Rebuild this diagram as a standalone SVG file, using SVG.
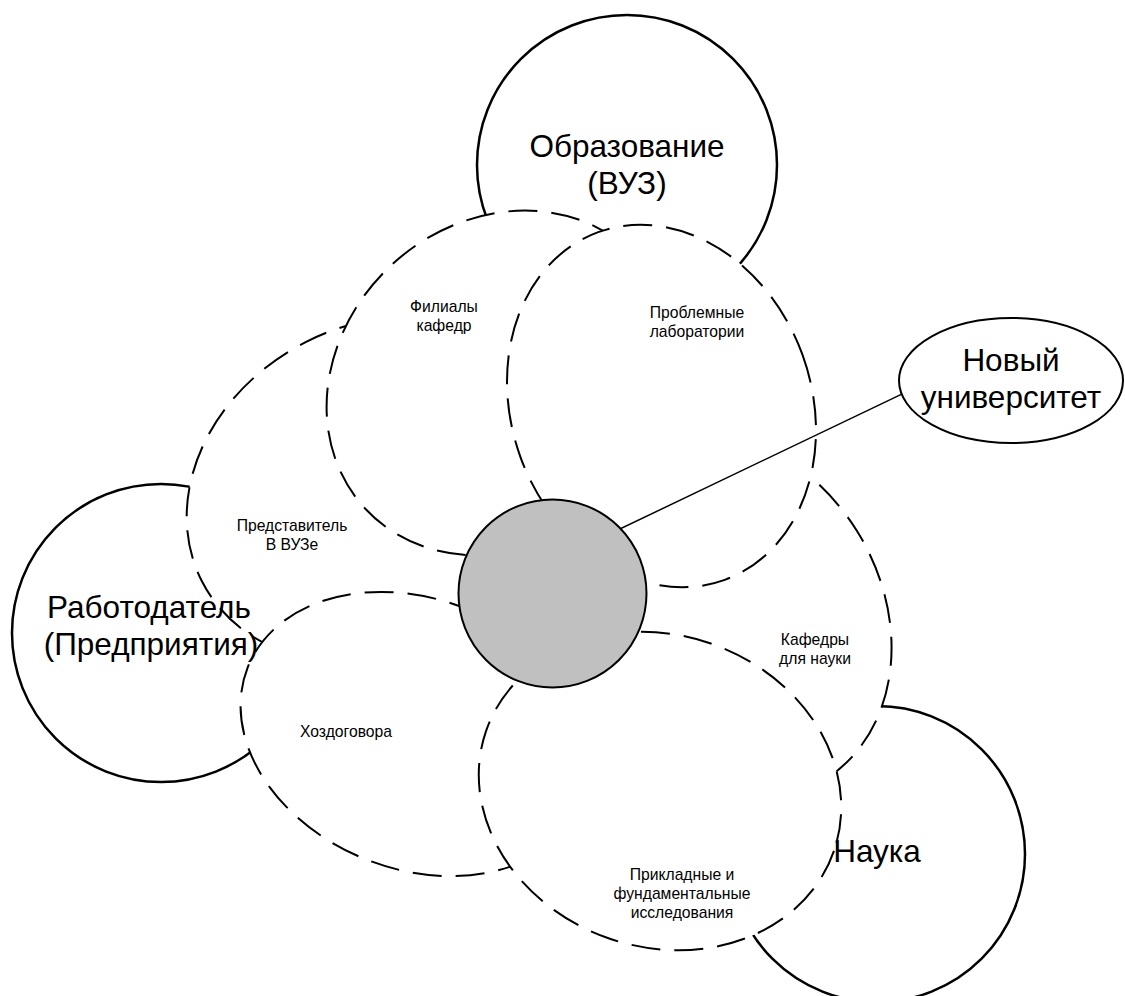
<svg xmlns="http://www.w3.org/2000/svg" width="1125" height="996" viewBox="0 0 1125 996">
  <style>
    .big { fill: none; stroke: #000; stroke-width: 2.5; }
    .petal { fill: none; stroke: #000; stroke-width: 2; stroke-dasharray: 29 14; }
    .hub { fill: #c0c0c0; stroke: #000; stroke-width: 2; }
    .oval { fill: #fff; stroke: #000; stroke-width: 2; }
    .link { fill: none; stroke: #000; stroke-width: 1.5; }
    text { font-family: "Liberation Sans", Arial, sans-serif; fill: #000; text-anchor: middle; }
    .lg { font-size: 31.5px; }
    .sm { font-size: 15.7px; }
  </style>
  <defs>
    <!-- petal outlines (shared by the drawn petals and the masks) -->
    <ellipse id="sh-pred" cx="381" cy="490" rx="201" ry="166" transform="rotate(-27 381 490)"/>
    <ellipse id="sh-fil" cx="501" cy="383" rx="185" ry="161" transform="rotate(-42.6 501 383)"/>
    <ellipse id="sh-prob" cx="661.5" cy="406" rx="150" ry="185" transform="rotate(-20 661.5 406)"/>
    <ellipse id="sh-kaf" cx="722" cy="615" rx="194" ry="159" transform="rotate(58 722 615)"/>
    <ellipse id="sh-hoz" cx="416" cy="734" rx="181" ry="135" transform="rotate(21.6 416 734)"/>
    <ellipse id="sh-prik" cx="660" cy="791" rx="184" ry="156" transform="rotate(19 660 791)"/>

    <!-- each mask hides the part of an outline lying under the shapes stacked above it -->
    <mask id="m-obr" maskUnits="userSpaceOnUse" x="0" y="0" width="1125" height="996">
      <rect width="1125" height="996" fill="#fff"/>
      <use href="#sh-fil" fill="#000"/>
      <use href="#sh-prob" fill="#000"/>
    </mask>
    <mask id="m-rab" maskUnits="userSpaceOnUse" x="0" y="0" width="1125" height="996">
      <rect width="1125" height="996" fill="#fff"/>
      <use href="#sh-pred" fill="#000"/>
      <use href="#sh-hoz" fill="#000"/>
    </mask>
    <mask id="m-nauka" maskUnits="userSpaceOnUse" x="0" y="0" width="1125" height="996">
      <rect width="1125" height="996" fill="#fff"/>
      <use href="#sh-kaf" fill="#000"/>
      <use href="#sh-prik" fill="#000"/>
    </mask>
    <mask id="m-pred" maskUnits="userSpaceOnUse" x="0" y="0" width="1125" height="996">
      <rect width="1125" height="996" fill="#fff"/>
      <use href="#sh-fil" fill="#000"/>
      <use href="#sh-hoz" fill="#000"/>
    </mask>
    <mask id="m-fil" maskUnits="userSpaceOnUse" x="0" y="0" width="1125" height="996">
      <rect width="1125" height="996" fill="#fff"/>
      <use href="#sh-prob" fill="#000"/>
    </mask>
    <mask id="m-kaf" maskUnits="userSpaceOnUse" x="0" y="0" width="1125" height="996">
      <rect width="1125" height="996" fill="#fff"/>
      <use href="#sh-prob" fill="#000"/>
      <use href="#sh-prik" fill="#000"/>
    </mask>
    <mask id="m-hoz" maskUnits="userSpaceOnUse" x="0" y="0" width="1125" height="996">
      <rect width="1125" height="996" fill="#fff"/>
      <use href="#sh-prik" fill="#000"/>
    </mask>
  </defs>

  <rect width="1125" height="996" fill="#fff"/>

  <!-- large spheres -->
  <g id="node-obrazovanie">
    <circle class="big" cx="627" cy="165" r="150" mask="url(#m-obr)"/>
    <text class="lg" x="627" y="157">Образование</text>
    <text class="lg" x="627" y="193.5">(ВУЗ)</text>
  </g>
  <g id="node-rabotodatel">
    <circle class="big" cx="161" cy="633" r="149" mask="url(#m-rab)"/>
    <text class="lg" x="149" y="618">Работодатель</text>
    <text class="lg" x="151" y="655">(Предприятия)</text>
  </g>
  <g id="node-nauka">
    <circle class="big" cx="877" cy="854" r="148" mask="url(#m-nauka)"/>
    <text class="lg" x="877" y="862">Наука</text>
  </g>

  <!-- dashed petals -->
  <g id="node-predstavitel">
    <use class="petal" href="#sh-pred" mask="url(#m-pred)"/>
    <text class="sm" x="292" y="531">Представитель</text>
    <text class="sm" x="292" y="549.5">В ВУЗе</text>
  </g>
  <g id="node-filialy">
    <use class="petal" href="#sh-fil" mask="url(#m-fil)"/>
    <text class="sm" x="444" y="312">Филиалы</text>
    <text class="sm" x="444" y="330.5">кафедр</text>
  </g>
  <g id="node-kafedry">
    <use class="petal" href="#sh-kaf" mask="url(#m-kaf)"/>
    <text class="sm" x="815" y="645">Кафедры</text>
    <text class="sm" x="815" y="663.5">для науки</text>
  </g>
  <g id="node-hozdogovora">
    <use class="petal" href="#sh-hoz" mask="url(#m-hoz)"/>
    <text class="sm" x="346" y="737">Хоздоговора</text>
  </g>
  <g id="node-problemnye">
    <use class="petal" href="#sh-prob"/>
    <text class="sm" x="697" y="318">Проблемные</text>
    <text class="sm" x="697" y="337">лаборатории</text>
  </g>
  <g id="node-prikladnye">
    <use class="petal" href="#sh-prik"/>
    <text class="sm" x="682" y="880">Прикладные и</text>
    <text class="sm" x="682" y="899">фундаментальные</text>
    <text class="sm" x="682" y="918">исследования</text>
  </g>

  <!-- connector: hub to the "new university" oval -->
  <g id="connectors">
    <line class="link" x1="590" y1="543.3" x2="930" y2="380.6"/>
  </g>

  <g id="node-hub">
    <circle class="hub" cx="552.5" cy="593.5" r="94"/>
  </g>
  <g id="node-novyi-universitet">
    <ellipse class="oval" cx="1011" cy="380.5" rx="112" ry="62.5"/>
    <text class="lg" x="1011" y="371">Новый</text>
    <text class="lg" x="1011" y="407.5">университет</text>
  </g>
</svg>
